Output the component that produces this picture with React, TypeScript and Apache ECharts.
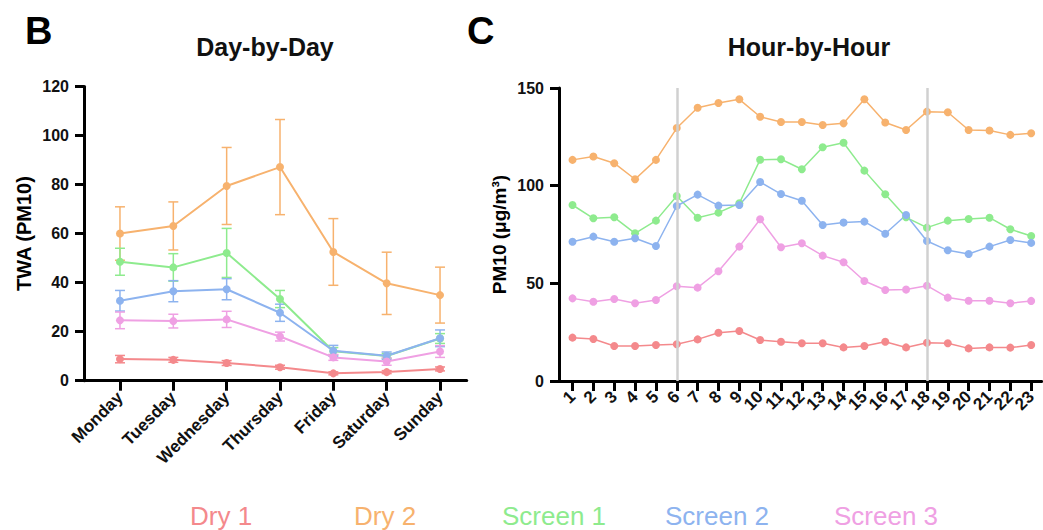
import React, { useEffect, useRef } from "react";
import * as echarts from "echarts";

const seriesNames = ["Dry 1", "Dry 2", "Screen 1", "Screen 2", "Screen 3"];
const seriesColors = ["#F4898C", "#F7B26E", "#8EEB8E", "#8DB3EF", "#EFA0E3"];

const days = ["Monday", "Tuesday", "Wednesday", "Thursday", "Friday", "Saturday", "Sunday"];
const dayDry1 = [8.8, 8.5, 7.2, 5.5, 3.0, 3.5, 4.8];
const dayDry1Err = [1.5, 1.0, 1.0, 0.8, 0.6, 0.6, 0.8];
const dayDry2 = [60.0, 63.1, 79.4, 87.1, 52.5, 39.7, 34.9];
const dayDry2Err = [10.9, 9.8, 15.7, 19.4, 13.6, 12.7, 11.4];
const dayScreen1 = [48.5, 46.2, 52.1, 33.3, 12.0, 10.1, 17.2];
const dayScreen1Err = [5.5, 5.6, 10.0, 3.5, 1.5, 1.0, 2.0];
const dayScreen2 = [32.6, 36.5, 37.3, 27.7, 12.2, 10.2, 17.3];
const dayScreen2Err = [4.2, 4.3, 4.3, 3.5, 2.2, 1.5, 3.4];
const dayScreen3 = [24.6, 24.3, 25.0, 18.0, 9.5, 7.8, 11.9];
const dayScreen3Err = [3.4, 2.8, 3.3, 1.8, 1.2, 1.5, 2.4];

const hours = ["1", "2", "3", "4", "5", "6", "7", "8", "9", "10", "11", "12", "13", "14", "15", "16", "17", "18", "19", "20", "21", "22", "23"];
const hourDry1 = [22.2, 21.5, 17.9, 17.9, 18.4, 18.8, 21.3, 24.7, 25.6, 21.0, 20.1, 19.3, 19.3, 17.2, 17.9, 20.1, 17.2, 19.6, 19.3, 16.7, 17.2, 17.1, 18.4];
const hourDry2 = [113.2, 114.9, 111.5, 103.3, 113.2, 129.5, 139.9, 142.3, 144.2, 135.3, 132.6, 132.6, 131.1, 131.9, 144.2, 132.3, 128.5, 137.9, 137.6, 128.5, 128.2, 126.0, 126.8];
const hourScreen1 = [90.1, 83.3, 83.8, 75.6, 82.1, 94.7, 83.6, 86.2, 91.0, 113.3, 113.5, 108.4, 119.7, 122.0, 107.7, 95.6, 83.8, 78.5, 82.1, 82.9, 83.6, 77.7, 74.2];
const hourScreen2 = [71.3, 73.9, 71.3, 73.1, 69.1, 89.6, 95.4, 89.8, 90.1, 101.9, 95.7, 92.3, 79.9, 81.1, 81.6, 75.4, 85.0, 71.7, 66.9, 65.0, 68.8, 72.2, 70.7];
const hourScreen3 = [42.3, 40.6, 42.0, 39.8, 41.5, 48.5, 47.8, 56.2, 68.8, 82.8, 68.5, 70.5, 64.2, 60.8, 51.2, 46.6, 46.8, 48.8, 42.7, 41.1, 41.1, 39.8, 41.0];
const markedHours = ["6", "18"];

const dayMeans = [dayDry1, dayDry2, dayScreen1, dayScreen2, dayScreen3];
const dayErrs = [dayDry1Err, dayDry2Err, dayScreen1Err, dayScreen2Err, dayScreen3Err];
const hourMeans = [hourDry1, hourDry2, hourScreen1, hourScreen2, hourScreen3];

const FONT = "'Liberation Sans', Arial, Helvetica, sans-serif";
const legendLefts = [180, 344, 492, 655, 824];

export default function App() {
  const ref = useRef<HTMLDivElement>(null);
  useEffect(() => {
    if (!ref.current) return;
    const chart = echarts.init(ref.current, null, { renderer: "svg" });

    const axisLine = { show: true, lineStyle: { color: "#000", width: 3 } };
    const axisTick = { show: true, length: 9, lineStyle: { color: "#000", width: 3 } };
    const labelStyle = { color: "#111", fontWeight: "bold" as const, fontFamily: FONT };

    const errorSeries = dayMeans.map((m, s) => ({
      type: "custom",
      name: seriesNames[s],
      xAxisIndex: 0,
      yAxisIndex: 0,
      z: 1,
      silent: true,
      data: days.map((_, i) => [i, m[i], dayErrs[s][i]]),
      renderItem: (params: any, api: any) => {
        const x = api.value(0);
        const v = api.value(1);
        const e = api.value(2);
        const top = api.coord([x, v + e]);
        const bot = api.coord([x, v - e]);
        const hw = 5;
        const st = { stroke: seriesColors[s], lineWidth: 1.5 };
        return {
          type: "group",
          children: [
            { type: "line", shape: { x1: top[0], y1: top[1], x2: bot[0], y2: bot[1] }, style: st },
            { type: "line", shape: { x1: top[0] - hw, y1: top[1], x2: top[0] + hw, y2: top[1] }, style: st },
            { type: "line", shape: { x1: bot[0] - hw, y1: bot[1], x2: bot[0] + hw, y2: bot[1] }, style: st },
          ],
        };
      },
    }));

    const dayLines = dayMeans.map((m, s) => ({
      type: "line",
      name: seriesNames[s],
      xAxisIndex: 0,
      yAxisIndex: 0,
      z: 3,
      data: m,
      symbol: "circle",
      symbolSize: 8,
      itemStyle: { color: seriesColors[s] },
      lineStyle: { color: seriesColors[s], width: 2 },
    }));

    const hourLines = hourMeans.map((m, s) => ({
      type: "line",
      name: seriesNames[s],
      xAxisIndex: 1,
      yAxisIndex: 1,
      z: 3,
      data: m,
      symbol: "circle",
      symbolSize: 8,
      itemStyle: { color: seriesColors[s] },
      lineStyle: { color: seriesColors[s], width: 1.5 },
    }));

    const markSeries = {
      type: "line",
      name: "marks",
      xAxisIndex: 1,
      yAxisIndex: 1,
      z: 1,
      silent: true,
      data: hours.map(() => "-"),
      symbol: "none",
      lineStyle: { width: 0 },
      markLine: {
        silent: true,
        symbol: "none",
        label: { show: false },
        lineStyle: { color: "#d0d0d0", width: 2.5, type: "solid" },
        data: markedHours.map((h) => ({ xAxis: h })),
      },
    };

    const option: any = {
      animation: false,
      backgroundColor: "#fff",
      textStyle: { fontFamily: FONT },
      grid: [
        { left: 93.3, right: 576.3, top: 86.4, bottom: 149.3 },
        { left: 562.1, right: 1.4, top: 88, bottom: 149 },
        { left: 84, right: 576.3, top: 86.4, bottom: 149.3 },
        { left: 559, right: 1.4, top: 88, bottom: 149 },
      ],
      xAxis: [
        {
          type: "category",
          gridIndex: 0,
          data: days,
          boundaryGap: true,
          axisLine: { show: false },
          axisTick: { ...axisTick, alignWithLabel: true, length: 10 },
          axisLabel: { ...labelStyle, fontSize: 17, rotate: 45, margin: 14, interval: 0 },
          splitLine: { show: false },
        },
        {
          type: "category",
          gridIndex: 1,
          data: hours,
          boundaryGap: true,
          axisLine: { show: false },
          axisTick: { ...axisTick, alignWithLabel: true, length: 10 },
          axisLabel: { ...labelStyle, fontSize: 17, rotate: 45, margin: 13, interval: 0 },
          splitLine: { show: false },
        },
        {
          type: "value",
          gridIndex: 2,
          min: 0,
          max: 1,
          axisLine: axisLine,
          axisTick: { show: false },
          axisLabel: { show: false },
          splitLine: { show: false },
        },
        {
          type: "value",
          gridIndex: 3,
          min: 0,
          max: 1,
          axisLine: axisLine,
          axisTick: { show: false },
          axisLabel: { show: false },
          splitLine: { show: false },
        },
      ],
      yAxis: [
        {
          type: "value",
          gridIndex: 0,
          min: 0,
          max: 120,
          interval: 20,
          offset: 9.3,
          axisLine: axisLine,
          axisTick: axisTick,
          axisLabel: { ...labelStyle, fontSize: 16, margin: 15 },
          splitLine: { show: false },
          name: "TWA (PM10)",
          nameLocation: "middle",
          nameGap: 50,
          nameTextStyle: { ...labelStyle, fontSize: 20, color: "#000" },
        },
        {
          type: "value",
          gridIndex: 1,
          min: 0,
          max: 150,
          interval: 50,
          offset: 3.1,
          axisLine: axisLine,
          axisTick: axisTick,
          axisLabel: { ...labelStyle, fontSize: 16, margin: 15 },
          splitLine: { show: false },
          name: "PM10 (μg/m³)",
          nameLocation: "middle",
          nameGap: 50,
          nameTextStyle: { ...labelStyle, fontSize: 19, color: "#000" },
        },
        { type: "value", gridIndex: 2, show: false, min: 0, max: 1 },
        { type: "value", gridIndex: 3, show: false, min: 0, max: 1 },
      ],
      legend: seriesNames.map((n, i) => ({
        data: [{ name: n, itemStyle: { opacity: 0 }, textStyle: { color: seriesColors[i] } }],
        left: legendLefts[i],
        top: 498,
        itemWidth: 0,
        itemHeight: 0,
        icon: "rect",
        selectedMode: false,
        textStyle: { fontSize: 26, fontFamily: FONT, color: seriesColors[i] },
      })),
      graphic: [
        { type: "text", x: 25, y: 31, style: { text: "B", font: `bold 38px ${FONT}`, fill: "#000", textVerticalAlign: "middle" } },
        { type: "text", x: 467, y: 31, style: { text: "C", font: `bold 38px ${FONT}`, fill: "#000", textVerticalAlign: "middle" } },
        { type: "text", x: 265, y: 47, style: { text: "Day-by-Day", font: `bold 25px ${FONT}`, fill: "#111", textAlign: "center", textVerticalAlign: "middle" } },
        { type: "text", x: 809, y: 47, style: { text: "Hour-by-Hour", font: `bold 25px ${FONT}`, fill: "#111", textAlign: "center", textVerticalAlign: "middle" } },
      ],
      series: [...errorSeries, ...dayLines, markSeries, ...hourLines],
    };
    chart.setOption(option);
    return () => chart.dispose();
  }, []);
  return <div ref={ref} style={{ position: "fixed", left: 0, top: 0, width: 1043, height: 530 }} />;
}
